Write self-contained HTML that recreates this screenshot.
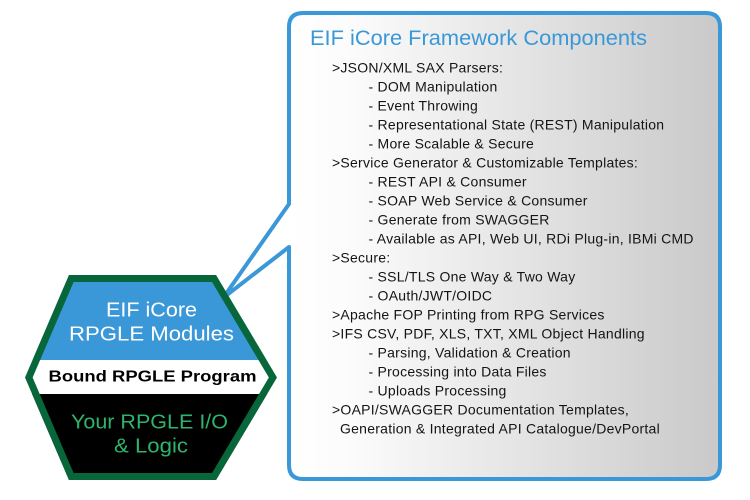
<!DOCTYPE html>
<html>
<head>
<meta charset="utf-8">
<style>
  html, body { margin:0; padding:0; background:#ffffff; }
  body { width:750px; height:500px; overflow:hidden; }
  svg { display:block; }
  .body { font-family:"Liberation Sans", Arial, sans-serif; font-size:14px; fill:#141414; letter-spacing:0.25px; }
  .hex { font-family:"Liberation Sans", Arial, sans-serif; }
</style>
</head>
<body>
<svg width="750" height="500" viewBox="0 0 750 500" xmlns="http://www.w3.org/2000/svg">
  <defs>
    <linearGradient id="bg" x1="289" y1="0" x2="720" y2="0" gradientUnits="userSpaceOnUse">
      <stop offset="0" stop-color="#ffffff"/>
      <stop offset="0.15" stop-color="#fbfbfb"/>
      <stop offset="1" stop-color="#c9c9c9"/>
    </linearGradient>
    <clipPath id="hexclip">
      <polygon points="25,377.5 69,275 216,275 277,377.5 216,480 69,480"/>
    </clipPath>
  </defs>

  <!-- Callout box -->
  <path d="M 289 204 L 289 27 Q 289 13 303 13 L 706 13 Q 720 13 720 27 L 720 465 Q 720 479 706 479 L 303 479 Q 289 479 289 465 L 289 247 L 223 298 Z"
        fill="url(#bg)" stroke="#3a98d8" stroke-width="4" stroke-linejoin="round"/>

  <!-- Hexagon -->
  <g clip-path="url(#hexclip)">
    <rect x="0" y="270" width="300" height="90" fill="#3a98d8"/>
    <rect x="0" y="360" width="300" height="34" fill="#ffffff"/>
    <rect x="0" y="394" width="300" height="90" fill="#000000"/>
    <polygon points="25,377.5 69,275 216,275 277,377.5 216,480 69,480" fill="none" stroke="#08673a" stroke-width="14"/>
  </g>

  <g class="hex">
    <text x="106" y="316.7" font-size="20" fill="#ffffff" textLength="91" lengthAdjust="spacingAndGlyphs">EIF iCore</text>
    <text x="69" y="340.7" font-size="20" fill="#ffffff" textLength="165" lengthAdjust="spacingAndGlyphs">RPGLE Modules</text>
    <text x="48.5" y="381.7" font-size="16" font-weight="bold" fill="#000000" textLength="208" lengthAdjust="spacingAndGlyphs">Bound RPGLE Program</text>
    <text x="71" y="428.3" font-size="20" fill="#2eb46c" textLength="157" lengthAdjust="spacingAndGlyphs">Your RPGLE I/O</text>
    <text x="114" y="452.5" font-size="20" fill="#2eb46c" textLength="74" lengthAdjust="spacingAndGlyphs">&amp; Logic</text>
  </g>

  <!-- Title -->
  <text x="310" y="45" font-family="Liberation Sans, Arial, sans-serif" font-size="21" fill="#3a98d8" textLength="337" lengthAdjust="spacingAndGlyphs">EIF iCore Framework Components</text>

  <!-- Body -->
  <g class="body">
    <text x="332" y="72.7">&gt;JSON/XML SAX Parsers:</text>
    <text x="368.5" y="91.7">- DOM Manipulation</text>
    <text x="368.5" y="110.7">- Event Throwing</text>
    <text x="368.5" y="129.7">- Representational State (REST) Manipulation</text>
    <text x="368.5" y="148.7">- More Scalable &amp; Secure</text>
    <text x="332" y="167.7">&gt;Service Generator &amp; Customizable Templates:</text>
    <text x="368.5" y="186.7">- REST API &amp; Consumer</text>
    <text x="368.5" y="205.7">- SOAP Web Service &amp; Consumer</text>
    <text x="368.5" y="224.7">- Generate from SWAGGER</text>
    <text x="368.5" y="243.7">- Available as API, Web UI, RDi Plug-in, IBMi CMD</text>
    <text x="332" y="262.7">&gt;Secure:</text>
    <text x="368.5" y="281.7">- SSL/TLS One Way &amp; Two Way</text>
    <text x="368.5" y="300.7">- OAuth/JWT/OIDC</text>
    <text x="332" y="319.7">&gt;Apache FOP Printing from RPG Services</text>
    <text x="332" y="338.7">&gt;IFS CSV, PDF, XLS, TXT, XML Object Handling</text>
    <text x="368.5" y="357.7">- Parsing, Validation &amp; Creation</text>
    <text x="368.5" y="376.7">- Processing into Data Files</text>
    <text x="368.5" y="395.7">- Uploads Processing</text>
    <text x="332" y="414.7">&gt;OAPI/SWAGGER Documentation Templates,</text>
    <text x="340" y="433.7">Generation &amp; Integrated API Catalogue/DevPortal</text>
  </g>
</svg>
</body>
</html>
